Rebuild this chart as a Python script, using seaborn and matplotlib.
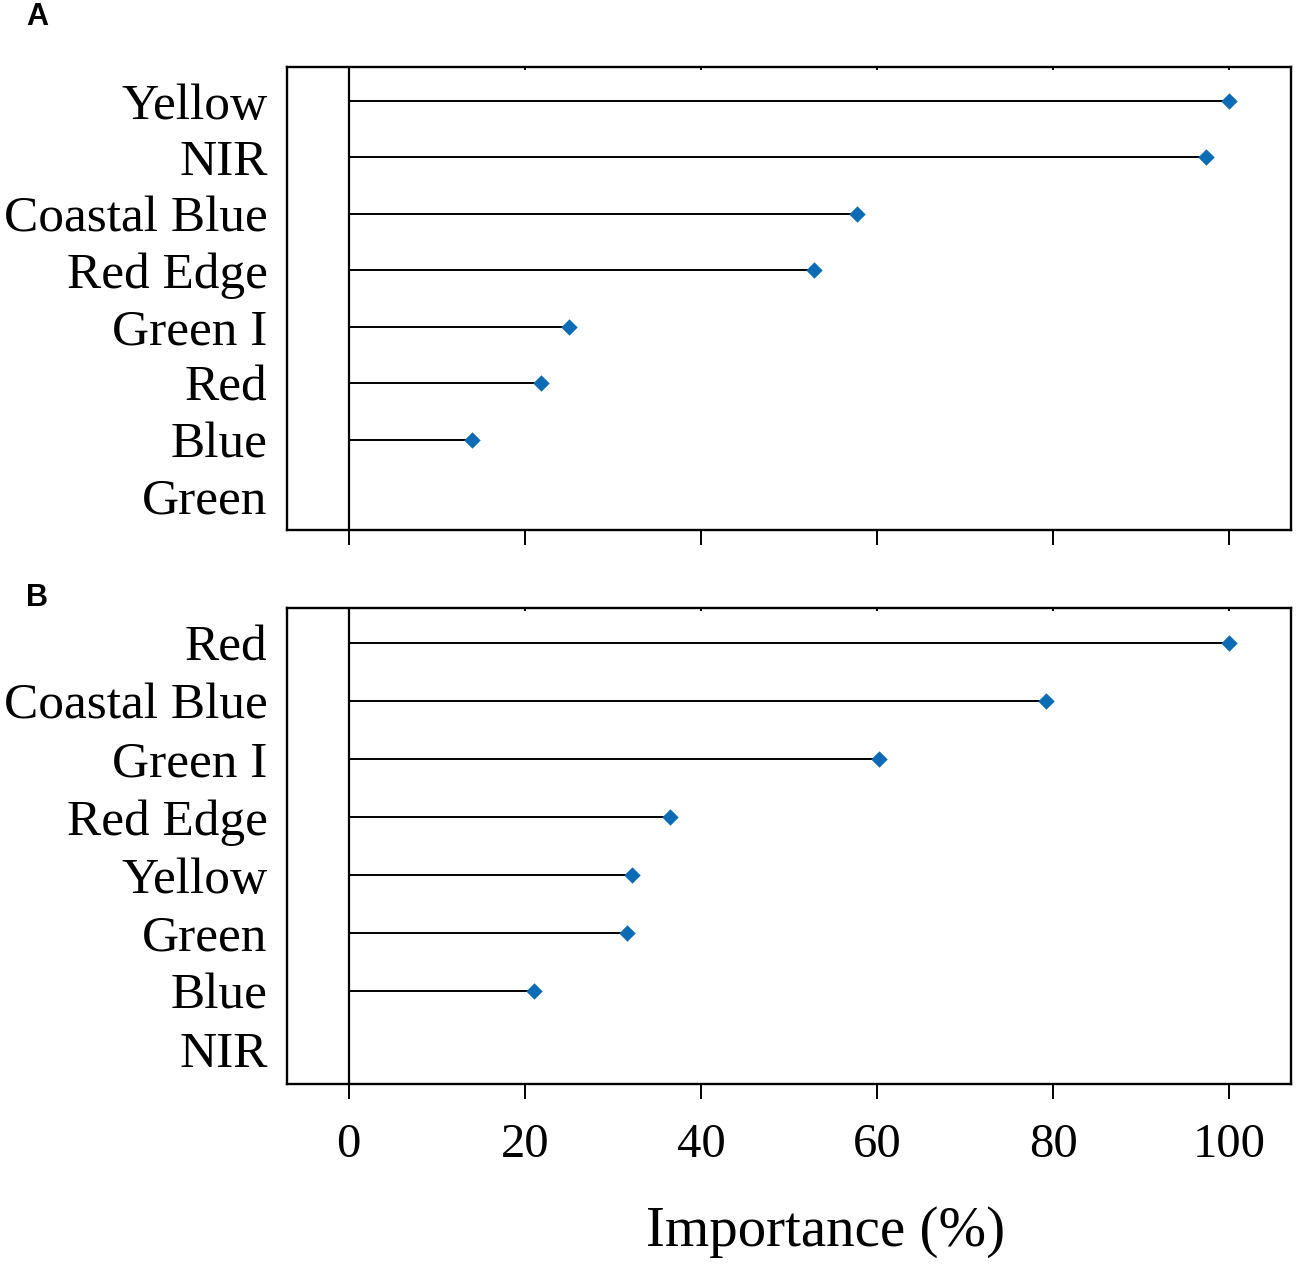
import pandas as pd
import seaborn as sns
import matplotlib.pyplot as plt

# band importance, top to bottom as drawn
bands_a = ['Yellow', 'NIR', 'Coastal Blue', 'Red Edge', 'Green I', 'Red', 'Blue', 'Green']
importance_a = [100, 97.4, 57.7, 52.9, 25.0, 21.8, 14.0, 0]

bands_b = ['Red', 'Coastal Blue', 'Green I', 'Red Edge', 'Yellow', 'Green', 'Blue', 'NIR']
importance_b = [100, 79.2, 60.2, 36.5, 32.2, 31.6, 21.0, 0]

x_ticks = [0, 20, 40, 60, 80, 100]
panel_labels = ['A', 'B']

sns.set_theme(style='white')
plt.rcParams['font.family'] = ['Liberation Serif', 'DejaVu Serif']
plt.rcParams['text.color'] = 'black'
plt.rcParams['xtick.labelcolor'] = 'black'
plt.rcParams['ytick.labelcolor'] = 'black'

MARKER_COLOR = '#0b6cb5'


def draw_panel(ax, bands, values, show_xlabels):
    df = pd.DataFrame({'band': bands, 'importance': values})
    has_val = df[df['importance'] > 0]
    # register every category (incl. the zero one) in list order
    ax.scatter([0] * len(bands), df['band'], s=0)
    ax.hlines(has_val['band'], 0, has_val['importance'], color='black', lw=1.4, zorder=2)
    sns.scatterplot(data=has_val, x='importance', y='band', marker='D', s=70,
                    color=MARKER_COLOR, edgecolor=MARKER_COLOR, linewidth=0, ax=ax, zorder=3)
    ax.axvline(0, color='black', lw=1.6, zorder=2)
    ax.set_xlim(-7, 107)
    ax.set_ylim(len(bands) - 0.4, -0.6)
    ax.set_xlabel('')
    ax.set_ylabel('')
    ax.set_xticks(x_ticks)
    for sp in ax.spines.values():
        sp.set_visible(True)
        sp.set_color('black')
        sp.set_linewidth(1.7)
    ax.tick_params(axis='y', length=0, pad=14, labelsize=37)
    ax.tick_params(axis='x', bottom=True, top=True, direction='out', length=11,
                   width=1.4, color='black', pad=17, labelsize=35,
                   labelbottom=show_xlabels)
    for t in ax.xaxis.get_major_ticks():
        t.tick2line.set_markersize(2)
        t.tick2line.set_marker(3)  # small inward tick at top


fig = plt.figure(figsize=(12.99, 12.65), dpi=100)
ax_a = fig.add_axes([0.2209, 0.5810, 0.7729, 0.3660])
ax_b = fig.add_axes([0.2209, 0.1431, 0.7729, 0.3763])

draw_panel(ax_a, bands_a, importance_a, False)
draw_panel(ax_b, bands_b, importance_b, True)

fig.text(26 / 1299, 1 - 17 / 1265, panel_labels[0], family='Liberation Sans',
         fontweight='bold', fontsize=22, va='center', ha='left')
fig.text(26 / 1299, 1 - 598 / 1265, panel_labels[1], family='Liberation Sans',
         fontweight='bold', fontsize=22, va='center', ha='left')
fig.text(826 / 1299, 1 - 1232 / 1265, 'Importance (%)', fontsize=41,
         ha='center', va='center')

fig.savefig('out.png', dpi=100)
